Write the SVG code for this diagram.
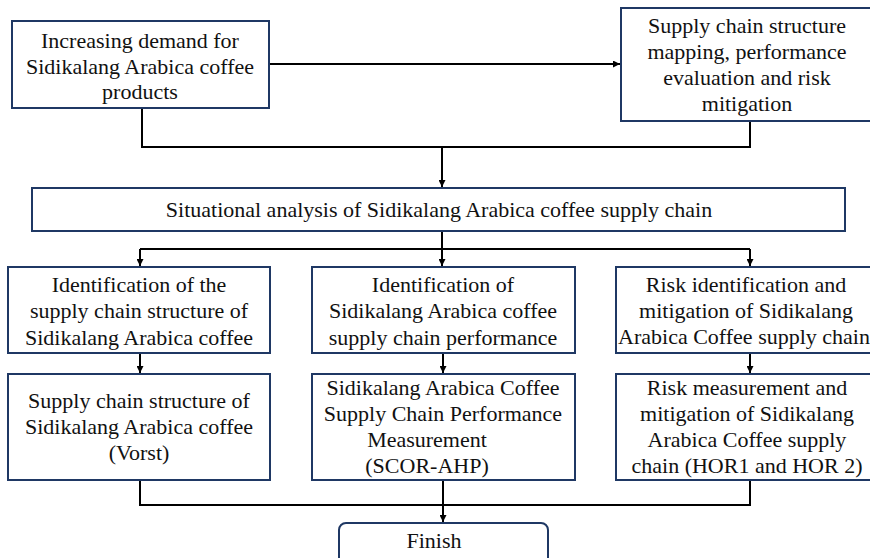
<svg xmlns="http://www.w3.org/2000/svg" width="870" height="558" viewBox="0 0 870 558">
<style>
.box{fill:#fff;stroke:#1f3864;stroke-width:2}
.c{fill:none;stroke:#000;stroke-width:2}
.t{font-family:'Liberation Serif','DejaVu Serif',serif;font-size:22px;fill:#111;text-anchor:middle}
</style>
<defs>
<marker id="ah" viewBox="0 0 10 10" refX="10" refY="5" markerWidth="7" markerHeight="7" markerUnits="userSpaceOnUse" orient="auto">
<path d="M0,0 L10,5 L0,10 z" fill="#000"/>
</marker>
</defs>
<rect width="870" height="558" fill="#fff"/>
<g id="connectors">
<path class="c" d="M269,64 H620" marker-end="url(#ah)"/>
<path class="c" d="M142,108 V147 H750 V121"/>
<path class="c" d="M442,147 V187" marker-end="url(#ah)"/>
<path class="c" d="M442,231 V266" marker-end="url(#ah)"/>
<path class="c" d="M140,249 H750"/>
<path class="c" d="M140,249 V266" marker-end="url(#ah)"/>
<path class="c" d="M750,249 V266" marker-end="url(#ah)"/>
<path class="c" d="M140,353 V373" marker-end="url(#ah)"/>
<path class="c" d="M443,353 V373" marker-end="url(#ah)"/>
<path class="c" d="M750,353 V373" marker-end="url(#ah)"/>
<path class="c" d="M140,480 V505 H750 V480"/>
<path class="c" d="M443,480 V522" marker-end="url(#ah)"/>
</g>
<g id="demand" class="t">
<rect class="box" x="12" y="21" width="257" height="87"/>
<text x="140" y="48">Increasing demand for</text>
<text x="140" y="74">Sidikalang Arabica coffee</text>
<text x="140" y="99">products</text>
</g>
<g id="goal" class="t">
<rect class="box" x="621" y="8" width="260" height="113"/>
<text x="747" y="33">Supply chain structure</text>
<text x="747" y="59">mapping, performance</text>
<text x="747" y="85">evaluation and risk</text>
<text x="747" y="111">mitigation</text>
</g>
<g id="situational" class="t">
<rect class="box" x="32" y="188" width="813" height="43"/>
<text x="439" y="217">Situational analysis of Sidikalang Arabica coffee supply chain</text>
</g>
<g id="ident-structure" class="t">
<rect class="box" x="8" y="267" width="262" height="86"/>
<text x="139" y="292">Identification of the</text>
<text x="139" y="318">supply chain structure of</text>
<text x="139" y="345">Sidikalang Arabica coffee</text>
</g>
<g id="ident-performance" class="t">
<rect class="box" x="312" y="267" width="263" height="86"/>
<text x="443" y="292">Identification of</text>
<text x="443" y="318">Sidikalang Arabica coffee</text>
<text x="443" y="345">supply chain performance</text>
</g>
<g id="ident-risk" class="t">
<rect class="box" x="616" y="267" width="264" height="86"/>
<text x="746" y="292">Risk identification and</text>
<text x="746" y="318">mitigation of Sidikalang</text>
<text x="744" y="344">Arabica Coffee supply chain</text>
</g>
<g id="structure-vorst" class="t">
<rect class="box" x="8" y="374" width="262" height="106"/>
<text x="139" y="408">Supply chain structure of</text>
<text x="139" y="434">Sidikalang Arabica coffee</text>
<text x="139" y="460">(Vorst)</text>
</g>
<g id="performance-scor" class="t">
<rect class="box" x="312" y="374" width="263" height="106"/>
<text x="443" y="395">Sidikalang Arabica Coffee</text>
<text x="443" y="421">Supply Chain Performance</text>
<text x="427" y="447">Measurement</text>
<text x="427" y="473">(SCOR-AHP)</text>
</g>
<g id="risk-hor" class="t">
<rect class="box" x="616" y="374" width="264" height="106"/>
<text x="747" y="395">Risk measurement and</text>
<text x="747" y="421">mitigation of Sidikalang</text>
<text x="747" y="447">Arabica Coffee supply</text>
<text x="747" y="473">chain (HOR1 and HOR 2)</text>
</g>
<g id="finish" class="t">
<rect class="box" x="339" y="523" width="209" height="50" rx="7"/>
<text x="434" y="548">Finish</text>
</g>
</svg>
